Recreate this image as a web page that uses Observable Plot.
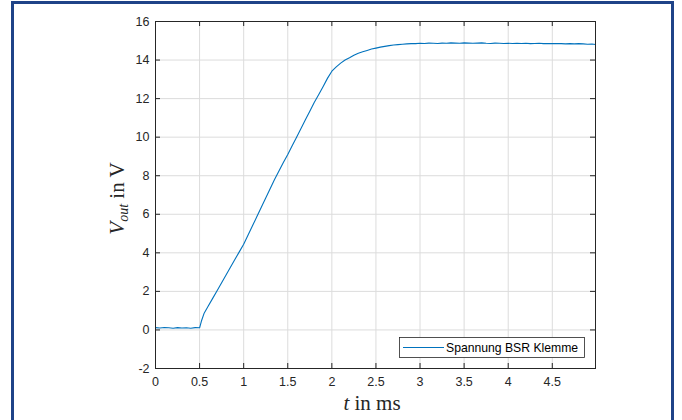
<!DOCTYPE html>
<html><head><meta charset="utf-8">
<script src="https://cdn.jsdelivr.net/npm/d3@7"></script>
<script src="https://cdn.jsdelivr.net/npm/@observablehq/plot@0.6"></script>
<style>
body{margin:0;background:#fff;}
#wrap{position:relative;width:682px;height:420px;overflow:hidden;background:#fff;}
#border{position:absolute;left:11px;top:1px;width:657px;height:440px;border:3px solid #1f4388;}
#chart{position:absolute;left:0;top:0;}
</style></head>
<body><div id="wrap"><div id="border"></div><div id="chart"></div></div>
<script>
const timeMs = [0,0.05,0.1,0.15,0.2,0.25,0.3,0.35,0.4,0.45,0.5,0.52,0.55,0.6,0.65,0.7,0.75,0.8,0.85,0.9,0.95,
  1.0,1.05,1.1,1.15,1.2,1.25,1.3,1.35,1.4,1.45,1.5,1.55,1.6,1.65,1.7,1.75,1.8,1.85,1.9,1.95,
  2.0,2.05,2.1,2.15,2.2,2.25,2.3,2.35,2.4,2.45,2.5,2.55,2.6,2.65,2.7,2.75,2.8,2.85,2.9,2.95,
  3.0,3.05,3.1,3.15,3.2,3.25,3.3,3.35,3.4,3.45,3.5,3.55,3.6,3.65,3.7,3.75,3.8,3.85,3.9,3.95,
  4.0,4.05,4.1,4.15,4.2,4.25,4.3,4.35,4.4,4.45,4.5,4.55,4.6,4.65,4.7,4.75,4.8,4.85,4.9,4.95,4.99];
const voltage = [0.12,0.10,0.13,0.11,0.09,0.12,0.10,0.11,0.09,0.12,0.11,0.45,0.85,1.25,1.65,2.05,2.45,2.85,3.25,3.65,4.05,
  4.45,4.92,5.40,5.88,6.36,6.84,7.32,7.80,8.25,8.68,9.10,9.55,10.00,10.45,10.90,11.35,11.80,12.20,12.62,13.05,
  13.42,13.65,13.84,14.00,14.12,14.25,14.35,14.43,14.50,14.57,14.62,14.67,14.71,14.75,14.78,14.80,14.82,14.84,14.85,14.85,
  14.87,14.86,14.88,14.87,14.86,14.88,14.87,14.89,14.88,14.87,14.89,14.88,14.87,14.88,14.89,14.87,14.86,14.88,14.87,14.86,
  14.87,14.86,14.87,14.86,14.87,14.85,14.86,14.87,14.85,14.86,14.85,14.86,14.85,14.84,14.85,14.84,14.85,14.84,14.82,14.83,14.81];
const xTicks = [0,0.5,1,1.5,2,2.5,3,3.5,4,4.5];
const yTicks = [-2,0,2,4,6,8,10,12,14,16];
const xDomain = [0,4.99];
const yDomain = [-2,16];
const seriesName = "Spannung BSR Klemme";

const W=682,H=420,mL=155,mR=87,mT=21,mB=52;
const iw=W-mL-mR, ih=H-mT-mB;
const axisColor="#262626";
const data = timeMs.map((t,i)=>({t, v: voltage[i]}));

const plot = Plot.plot({
  width:W, height:H, marginLeft:mL, marginRight:mR, marginTop:mT, marginBottom:mB,
  style:{fontFamily:"'Liberation Sans', Arial, sans-serif", fontSize:"12px", color:axisColor, background:"transparent"},
  x:{domain:xDomain},
  y:{domain:yDomain},
  marks:[
    Plot.gridX(xTicks,{stroke:"#dcdcdc", strokeOpacity:1}),
    Plot.gridY(yTicks,{stroke:"#dcdcdc", strokeOpacity:1}),
    Plot.line(data,{x:"t",y:"v",stroke:"#0072BD",strokeWidth:1.1}),
    Plot.ruleX(xTicks,{insetTop:ih-5, stroke:axisColor}),
    Plot.ruleX(xTicks,{insetBottom:ih-5, stroke:axisColor}),
    Plot.ruleY(yTicks,{insetRight:iw-5, stroke:axisColor}),
    Plot.ruleY(yTicks,{insetLeft:iw-5, stroke:axisColor}),
    Plot.frame({stroke:axisColor}),
    Plot.axisX(xTicks,{tickSize:0, tickPadding:9, label:null, fontSize:12.5, tickFormat:d=>String(d)}),
    Plot.axisY(yTicks,{tickSize:0, tickPadding:6, label:null, fontSize:12.5, tickFormat:d=>String(d)})
  ]
});
document.getElementById("chart").appendChild(plot);

const svg = d3.select(plot);
const serif = "'Liberation Serif','Times New Roman',serif";
const xl = svg.append("text").attr("x", mL+iw/2-3).attr("y", 410).attr("text-anchor","middle")
  .style("font-family",serif).style("font-size","21px").attr("fill",axisColor);
xl.append("tspan").style("font-style","italic").text("t");
xl.append("tspan").text(" in ms");

const yl = svg.append("text").attr("transform",`translate(124,${mT+ih/2+4}) rotate(-90)`).attr("text-anchor","middle")
  .style("font-family",serif).style("font-size","21px").attr("fill",axisColor);
yl.append("tspan").style("font-style","italic").text("V");
yl.append("tspan").style("font-style","italic").style("font-size","14px").attr("dy",4).text("out");
yl.append("tspan").attr("dy",-4).text(" in V");

const lgR = mL+iw-11, lgB = mT+ih-11, lgW=185, lgH=20;
const lg = svg.append("g");
lg.append("rect").attr("x",lgR-lgW+0.5).attr("y",lgB-lgH+0.5).attr("width",lgW).attr("height",lgH)
  .attr("fill","#fff").attr("stroke",axisColor).attr("stroke-width",0.8);
lg.append("line").attr("x1",lgR-lgW+4).attr("x2",lgR-lgW+45).attr("y1",lgB-lgH/2+0.5).attr("y2",lgB-lgH/2+0.5)
  .attr("stroke","#0072BD").attr("stroke-width",1.1);
lg.append("text").attr("x",lgR-lgW+47).attr("y",lgB-lgH/2+4.5).attr("text-anchor","start")
  .style("font-size","12.2px").attr("fill","#000").text(seriesName);
</script>
</body></html>
